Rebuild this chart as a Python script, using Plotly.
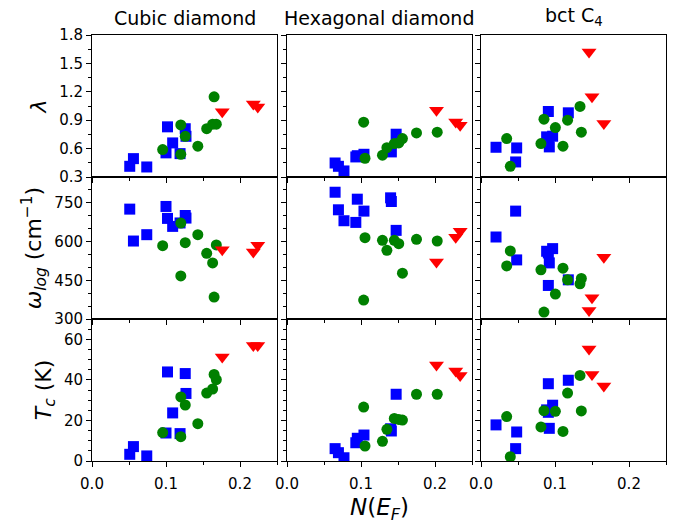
import plotly.graph_objects as go

# ---------------- data ----------------
col_titles = ["Cubic diamond", "Hexagonal diamond", "bct C<sub>4</sub>"]
row_titles = ["<i>λ</i>", "<i>ω<sub>log</sub></i> (cm<sup>−1</sup>)", "<i>T<sub>c</sub></i> (K)"]
x_title = "<i>N</i>(<i>E<sub>F</sub></i>)"

# Cubic diamond
cd_blue_N = [0.051, 0.056, 0.074, 0.100, 0.102, 0.109, 0.119, 0.126, 0.127]
cd_blue_lam = [0.413, 0.494, 0.406, 0.555, 0.83, 0.66, 0.547, 0.81, 0.73]
cd_blue_w = [725.6, 602, 626.6, 735.9, 689.6, 658.7, 672, 701, 690.9]
cd_blue_tc = [3.3, 7.1, 2.5, 13.8, 43.9, 23.7, 13.5, 43.1, 33.3]

cd_green_N = [0.0955, 0.120, 0.120, 0.126, 0.143, 0.155, 0.163, 0.165, 0.168]
cd_green_lam = [0.59, 0.54, 0.85, 0.73, 0.625, 0.81, 0.858, 1.147, 0.858]
cd_green_w = [584, 671.6, 467, 595.7, 626.6, 554.6, 517.3, 385, 586.7]
cd_green_tc = [14.0, 12.0, 31.6, 27.6, 18.4, 33.5, 35.5, 42.7, 40.1]

cd_red_N = [0.176, 0.218, 0.224]
cd_red_lam = [0.99, 1.07, 1.04]
cd_red_w = [568.7, 559.7, 585.4]
cd_red_tc = [51.3, 56.9, 56.9]

# Hexagonal diamond
hd_blue_N = [0.065, 0.0695, 0.077, 0.093, 0.095, 0.104, 0.140, 0.141, 0.1475]
hd_blue_lam = [0.448, 0.413, 0.364, 0.512, 0.525, 0.54, 0.58, 0.565, 0.752]
hd_blue_w = [791, 723, 680.6, 674.1, 764.1, 717.9, 769.3, 755.1, 643.3]
hd_blue_tc = [6.1, 4.1, 1.6, 9.0, 11.2, 12.8, 15.9, 14.8, 32.9]

hd_green_N = [0.1036, 0.1054, 0.129, 0.135, 0.145, 0.151, 0.156, 0.175, 0.203]
hd_green_lam = [0.879, 0.498, 0.53, 0.61, 0.653, 0.66, 0.706, 0.766, 0.773]
hd_green_w = [373.3, 615, 604.7, 566.1, 604.7, 591.9, 477.4, 608.6, 602.1]
hd_green_tc = [26.6, 7.4, 9.7, 15.6, 21.0, 20.5, 20.2, 32.9, 32.9]

hd_red_N = [0.202, 0.228, 0.234]
hd_red_lam = [1.006, 0.882, 0.847]
hd_red_w = [521, 616.3, 639.4]
hd_red_tc = [47.3, 44.4, 42.2]

# bct C4
bc_blue_N = [0.0203, 0.0468, 0.0482, 0.0887, 0.091, 0.091, 0.0923, 0.0968, 0.118]
bc_blue_lam = [0.614, 0.459, 0.607, 0.724, 0.992, 0.70, 0.618, 0.731, 0.978]
bc_blue_w = [617.6, 717.9, 528.9, 562.3, 429.9, 555.9, 517.3, 572.6, 451.7]
bc_blue_tc = [17.8, 6.1, 14.3, 25.2, 38.1, 24.0, 16.1, 27.5, 39.8]

bc_green_N = [0.0347, 0.0396, 0.081, 0.0851, 0.1005, 0.1108, 0.117, 0.1338, 0.1356]
bc_green_lam = [0.706, 0.413, 0.653, 0.911, 0.822, 0.625, 0.90, 1.045, 0.773]
bc_green_w = [505.7, 563.6, 490.3, 327, 396.4, 496.7, 451.7, 436.3, 456.9]
bc_green_tc = [21.9, 2.1, 16.8, 24.8, 24.5, 14.6, 33.5, 42.2, 24.7]

bc_red_N = [0.146, 0.150, 0.166]
bc_red_lam = [1.62, 1.147, 0.865]
bc_red_w = [333.4, 382.3, 539.1]
bc_red_tc = [55.2, 42.7, 37.0]

lam_ticks = [0.3, 0.6, 0.9, 1.2, 1.5, 1.8]
lam_labels = ["0.3", "0.6", "0.9", "1.2", "1.5", "1.8"]
w_ticks = [300, 450, 600, 750]
w_labels = ["300", "450", "600", "750"]
tc_ticks = [0, 20, 40, 60]
tc_labels = ["0", "20", "40", "60"]
N_ticks = [0.0, 0.1, 0.2]
N_labels = ["0.0", "0.1", "0.2"]

# ---------------- figure ----------------
columns = [
    [(cd_blue_N, [cd_blue_lam, cd_blue_w, cd_blue_tc], "#0000ff", "square", 11),
     (cd_green_N, [cd_green_lam, cd_green_w, cd_green_tc], "#008000", "circle", 11),
     (cd_red_N, [cd_red_lam, cd_red_w, cd_red_tc], "#ff0000", "triangle-down", 13)],
    [(hd_blue_N, [hd_blue_lam, hd_blue_w, hd_blue_tc], "#0000ff", "square", 11),
     (hd_green_N, [hd_green_lam, hd_green_w, hd_green_tc], "#008000", "circle", 11),
     (hd_red_N, [hd_red_lam, hd_red_w, hd_red_tc], "#ff0000", "triangle-down", 13)],
    [(bc_blue_N, [bc_blue_lam, bc_blue_w, bc_blue_tc], "#0000ff", "square", 11),
     (bc_green_N, [bc_green_lam, bc_green_w, bc_green_tc], "#008000", "circle", 11),
     (bc_red_N, [bc_red_lam, bc_red_w, bc_red_tc], "#ff0000", "triangle-down", 13)],
]

row_cfg = [
    dict(range=[0.3, 1.8], tickvals=lam_ticks, ticktext=lam_labels, tick0=0.3, minor=0.15),
    dict(range=[300, 850], tickvals=w_ticks, ticktext=w_labels, tick0=300, minor=50),
    dict(range=[0, 70], tickvals=tc_ticks, ticktext=tc_labels, tick0=0, minor=5),
]

# page body has an 8px default margin: figure offset by 8px, sized to reach the window edges
W, H = 672, 513
ml, mr, mt, mb = 84, 14, 27, 60
pw = W - ml - mr
col_dom = [[0, 185 / pw], [195 / pw, 380 / pw], [389 / pw, 1.0]]
row_dom = [[2 / 3, 1.0], [1 / 3, 2 / 3], [0.0, 1 / 3]]

FONT = "DejaVu Sans"
fig = go.Figure()
layout = dict(
    width=W, height=H,
    margin=dict(l=ml, r=mr, t=mt, b=mb, autoexpand=False),
    paper_bgcolor="white", plot_bgcolor="white",
    showlegend=False,
    font=dict(family=FONT, size=15, color="black"),
)

for r in range(3):
    for c in range(3):
        idx = r * 3 + c + 1
        xa = "x" if idx == 1 else f"x{idx}"
        ya = "y" if idx == 1 else f"y{idx}"
        for N, vals, color, sym, sz in columns[c]:
            fig.add_trace(go.Scatter(
                x=N, y=vals[r], mode="markers", xaxis=xa, yaxis=ya,
                marker=dict(color=color, symbol=sym, size=sz, line=dict(width=0)),
                hoverinfo="skip",
            ))
        cfg = row_cfg[r]
        xkey = "xaxis" if idx == 1 else f"xaxis{idx}"
        ykey = "yaxis" if idx == 1 else f"yaxis{idx}"
        xd = dict(
            domain=col_dom[c], anchor=ya, range=[0, 0.25], automargin=False,
            tickmode="array", tickvals=N_ticks, ticktext=N_labels,
            showticklabels=(r == 2), ticks="outside", ticklen=5, tickwidth=1, tickcolor="black",
            ticklabelstandoff=4,
            minor=dict(tickmode="linear", tick0=0, dtick=0.05, ticks="outside", ticklen=3,
                       tickwidth=1, tickcolor="black", showgrid=False),
            showline=True, mirror=True, linecolor="black", linewidth=1,
            showgrid=False, zeroline=False,
            tickfont=dict(family=FONT, size=15),
        )
        yd = dict(
            domain=row_dom[r], anchor=xa, range=cfg["range"], automargin=False,
            tickmode="array", tickvals=cfg["tickvals"], ticktext=cfg["ticktext"],
            showticklabels=(c == 0), ticks="outside", ticklen=5, tickwidth=1, tickcolor="black",
            minor=dict(tickmode="linear", tick0=cfg["tick0"], dtick=cfg["minor"], ticks="outside",
                       ticklen=3, tickwidth=1, tickcolor="black", showgrid=False),
            showline=True, mirror=True, linecolor="black", linewidth=1,
            showgrid=False, zeroline=False,
            tickfont=dict(family=FONT, size=15),
        )
        if c == 0:
            yd["title"] = dict(text=row_titles[r], font=dict(family=FONT, size=22), standoff=6)
        layout[xkey] = xd
        layout[ykey] = yd

annotations = []
for c in range(3):
    annotations.append(dict(
        text=col_titles[c], xref="paper", yref="paper",
        x=(col_dom[c][0] + col_dom[c][1]) / 2, y=1.0, yshift=4,
        xanchor="center", yanchor="bottom", showarrow=False,
        font=dict(family=FONT, size=19, color="black"),
    ))
annotations.append(dict(
    text=x_title, xref="paper", yref="paper",
    x=(col_dom[1][0] + col_dom[1][1]) / 2, y=0.0, yshift=-48,
    xanchor="center", yanchor="middle", showarrow=False,
    font=dict(family=FONT, size=23, color="black"),
))
layout["annotations"] = annotations
fig.update_layout(**layout)
fig.write_html("out.html")
